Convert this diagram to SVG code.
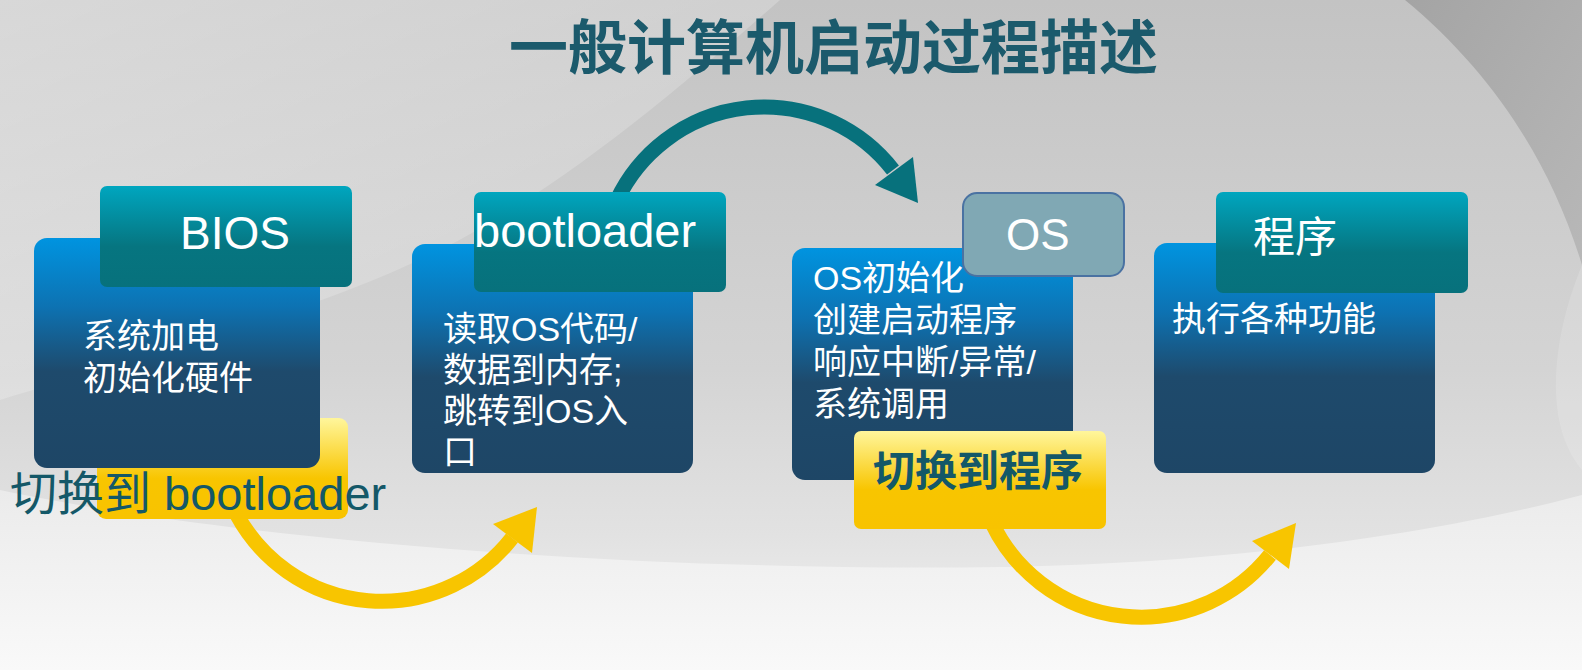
<svg xmlns="http://www.w3.org/2000/svg" width="1582" height="670" viewBox="0 0 1582 670">
<defs>
<linearGradient id="bg" x1="0" y1="0" x2="0" y2="1">
<stop offset="0" stop-color="#c3c3c3"/>
<stop offset="0.55" stop-color="#d4d4d4"/>
<stop offset="0.8" stop-color="#e2e2e2"/>
<stop offset="1" stop-color="#f4f4f4"/>
</linearGradient>
<linearGradient id="bgLow" x1="0" y1="0" x2="0" y2="1">
<stop offset="0" stop-color="#ebebeb"/>
<stop offset="1" stop-color="#f9f9f9"/>
</linearGradient>
<linearGradient id="bgDark" x1="0" y1="0" x2="1" y2="1">
<stop offset="0" stop-color="#a4a4a4"/>
<stop offset="1" stop-color="#b8b8b8"/>
</linearGradient>
<linearGradient id="bgLeft" x1="0" y1="0" x2="1" y2="1">
<stop offset="0" stop-color="#ffffff" stop-opacity="0.35"/>
<stop offset="1" stop-color="#ffffff" stop-opacity="0.08"/>
</linearGradient>
<linearGradient id="blue" x1="0" y1="0" x2="0" y2="1">
<stop offset="0" stop-color="#0094e0"/>
<stop offset="0.3" stop-color="#0d72b2"/>
<stop offset="0.58" stop-color="#1e4a6c"/>
<stop offset="1" stop-color="#1e4666"/>
</linearGradient>
<linearGradient id="teal" x1="0" y1="0" x2="0" y2="1">
<stop offset="0" stop-color="#00a6bf"/>
<stop offset="0.6" stop-color="#067580"/>
<stop offset="1" stop-color="#07717c"/>
</linearGradient>
<linearGradient id="yellow" x1="0" y1="0" x2="0" y2="1">
<stop offset="0" stop-color="#fff69c"/>
<stop offset="0.6" stop-color="#f8c500"/>
<stop offset="1" stop-color="#f8c300"/>
</linearGradient>
<style>
.body{fill:url(#blue)}
.head{fill:url(#teal)}
.yel{fill:url(#yellow)}
.ht{font-family:"Liberation Sans","Noto Sans CJK SC",sans-serif;fill:#ffffff}
.bt{font-family:"Liberation Sans","Noto Sans CJK SC",sans-serif;font-size:34px;fill:#ffffff}
.yt{font-family:"Liberation Sans","Noto Sans CJK SC",sans-serif;fill:#145868}
.teal-arc{fill:none;stroke:#07717c;stroke-width:15}
.yel-arc{fill:none;stroke:#f8c500;stroke-width:15}
</style>
</defs>
<!-- background -->
<rect width="1582" height="670" fill="url(#bg)"/>
<path d="M0 0 H780 C700 70 570 185 440 250 C310 315 130 360 0 400 Z" fill="url(#bgLeft)"/>
<path d="M1405 0 H1582 V265 C1550 160 1490 70 1405 0 Z" fill="url(#bgDark)"/>
<path d="M1582 265 C1555 330 1540 420 1582 470 Z" fill="#ffffff" opacity="0.15"/>
<path d="M0 490 C260 545 680 572 1000 567 C1250 563 1450 530 1582 495 V670 H0 Z" fill="url(#bgLow)"/>
<!-- title -->
<text x="509" y="69" font-family="Liberation Sans,'Noto Sans CJK SC',sans-serif" font-size="59" font-weight="bold" fill="#1b5a6c">一般计算机启动过程描述</text>
<!-- connectors -->
<g id="connectors">
<path class="teal-arc" d="M617 200 A163 163 0 0 1 893 170"/>
<polygon points="918,203 875,185 913,157" fill="#07717c"/>
<path class="yel-arc" d="M237 515 A165 165 0 0 0 512 538"/>
<polygon points="537,507 493,524 532,553" fill="#f8c500"/>
<path class="yel-arc" d="M992 523 A165 165 0 0 0 1270 555"/>
<polygon points="1296,523 1252,541 1289,569" fill="#f8c500"/>
</g>
<!-- BIOS -->
<g id="node-bios">
<rect class="yel" x="97" y="418" width="251" height="101" rx="9"/>
<rect class="body" x="34" y="238" width="286" height="230" rx="13"/>
<rect class="head" x="100" y="186" width="252" height="101" rx="7"/>
<text class="ht" x="180" y="249" font-size="46">BIOS</text>
<text class="bt" x="83" y="348">系统加电</text>
<text class="bt" x="83" y="390">初始化硬件</text>
<text class="yt" x="10" y="510" font-size="47">切换到 bootloader</text>
</g>
<!-- bootloader -->
<g id="node-bootloader">
<rect class="body" x="412" y="244" width="281" height="229" rx="13"/>
<rect class="head" x="474" y="192" width="252" height="100" rx="7"/>
<text class="ht" x="474" y="247" font-size="47">bootloader</text>
<text class="bt" x="443" y="341">读取OS代码/</text>
<text class="bt" x="443" y="382">数据到内存;</text>
<text class="bt" x="443" y="423">跳转到OS入</text>
<text class="bt" x="443" y="464">口</text>
</g>
<!-- OS -->
<g id="node-os">
<rect class="body" x="792" y="248" width="281" height="232" rx="13"/>
<rect x="963" y="193" width="161" height="83" rx="14" fill="#80a8b4" stroke="#4a72a2" stroke-width="2"/>
<text class="ht" x="1006" y="250" font-size="44">OS</text>
<text class="bt" x="813" y="290">OS初始化</text>
<text class="bt" x="813" y="332">创建启动程序</text>
<text class="bt" x="813" y="374">响应中断/异常/</text>
<text class="bt" x="813" y="416">系统调用</text>
<rect class="yel" x="854" y="431" width="252" height="98" rx="7"/>
<text class="yt" x="873" y="486" font-size="42" font-weight="bold">切换到程序</text>
</g>
<!-- 程序 -->
<g id="node-program">
<rect class="body" x="1154" y="243" width="281" height="230" rx="13"/>
<rect class="head" x="1216" y="192" width="252" height="101" rx="7"/>
<text class="ht" x="1253" y="252" font-size="42">程序</text>
<text class="bt" x="1172" y="331">执行各种功能</text>
</g>
</svg>
